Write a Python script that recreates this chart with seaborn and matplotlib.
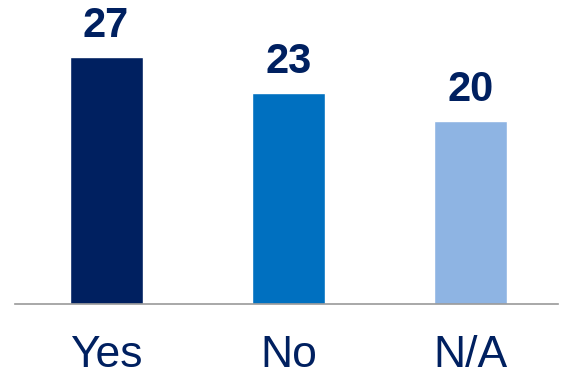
import matplotlib
matplotlib.use("Agg")
import matplotlib.pyplot as plt
import seaborn as sns
import pandas as pd

categories = ["Yes", "No", "N/A"]
values = [27, 23, 20]
colors = ["#002060", "#0070C0", "#8EB4E3"]
text_color = "#002060"

sns.set_style("white")
plt.rcParams["font.family"] = ["Liberation Sans", "DejaVu Sans"]

df = pd.DataFrame({"answer": categories, "count": values})

fig = plt.figure(figsize=(5.68, 3.82), dpi=100)
ax = fig.add_axes([15 / 568, 78 / 382, 543 / 568, 304 / 382])

sns.barplot(data=df, x="answer", y="count", hue="answer", palette=colors,
            width=0.4, legend=False, ax=ax, saturation=1)

for i, v in enumerate(values):
    ax.annotate(str(v), (i, v), xytext=(0, 8), textcoords="offset points",
                ha="center", va="bottom", fontsize=30, fontweight="bold",
                color=text_color)

ax.set_xlim(-0.5, 2.48)
ax.set_ylim(0, 33.2)
ax.set_xlabel("")
ax.set_ylabel("")
ax.set_yticks([])
ax.tick_params(axis="x", length=0, pad=22, labelsize=32, labelcolor=text_color)
for side in ["top", "right", "left"]:
    ax.spines[side].set_visible(False)
ax.spines["bottom"].set_color("#999999")
ax.spines["bottom"].set_linewidth(1.2)

fig.savefig("out.png", dpi=100)
